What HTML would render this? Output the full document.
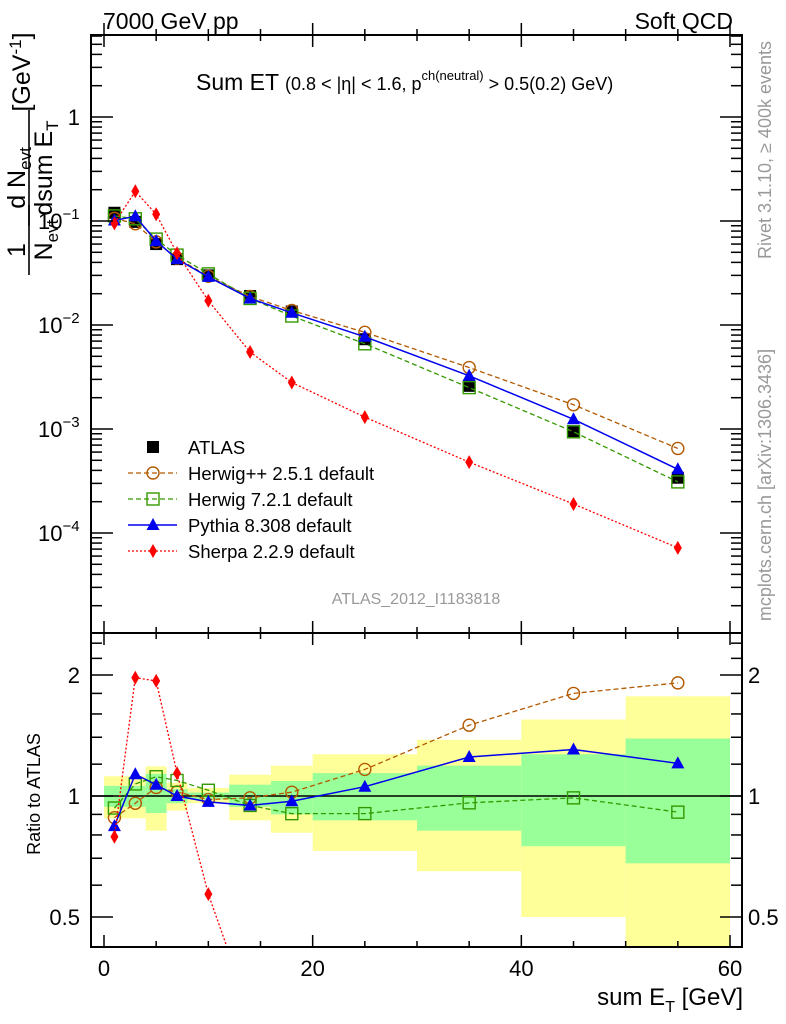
<!DOCTYPE html>
<html><head><meta charset="utf-8"><style>
html,body{margin:0;background:#fff;overflow:hidden;width:786px;height:1024px;}
svg{display:block;font-family:"Liberation Sans",sans-serif;}
</style></head><body>
<svg id="chart" width="786" height="1024" viewBox="0 0 786 1024" xmlns="http://www.w3.org/2000/svg">
<g id="bands"></g>
<g id="marks"></g>
<g id="axes"></g>
<text x="103" y="29" font-size="23">7000 GeV pp</text>
<text x="733" y="29" font-size="23" text-anchor="end">Soft QCD</text>
<text x="196" y="90" font-size="23">Sum ET <tspan font-size="18">(0.8 &lt; |η| &lt; 1.6, p</tspan><tspan font-size="13" dy="-10">ch(neutral)</tspan><tspan font-size="18" dy="10"> &gt; 0.5(0.2) GeV)</tspan></text>
<text x="416" y="604" font-size="16" fill="#999" text-anchor="middle">ATLAS_2012_I1183818</text>
<text transform="translate(771,150) rotate(-90)" font-size="18" fill="#999" text-anchor="middle">Rivet 3.1.10, ≥ 400k events</text>
<text transform="translate(771,485) rotate(-90)" font-size="18" fill="#999" text-anchor="middle">mcplots.cern.ch [arXiv:1306.3436]</text>
<g font-size="25">
<text transform="translate(25,250) rotate(-90)" text-anchor="middle">1</text>
<line x1="29" y1="275" x2="29" y2="205" stroke="#000" stroke-width="1.6"/>
<text transform="translate(52,240) rotate(-90)" text-anchor="middle">N<tspan font-size="17" dy="6">evt</tspan></text>
<text transform="translate(25,178) rotate(-90)" text-anchor="middle">d N<tspan font-size="17" dy="6">evt</tspan></text>
<line x1="29" y1="226" x2="29" y2="110" stroke="#000" stroke-width="1.6"/>
<text transform="translate(52,168) rotate(-90)" text-anchor="middle">dsum E<tspan font-size="17" dy="6">T</tspan></text>
<text transform="translate(30,72) rotate(-90)" text-anchor="middle">[GeV<tspan font-size="17" dy="-9">-1</tspan><tspan dy="9">]</tspan></text>
</g>
<text transform="translate(40,794) rotate(-90)" font-size="18" text-anchor="middle">Ratio to ATLAS</text>
<text x="743" y="1005" font-size="24" text-anchor="end">sum E<tspan font-size="16" dy="7">T</tspan><tspan dy="-7"> [GeV]</tspan></text>
<g id="legend"></g>
</svg>
<script>
const xCenters=[1,3,5,7,10,14,18,25,35,45,55];
const binLo=[0,2,4,6,8,12,16,20,30,40,50];
const binHi=[2,4,6,8,12,16,20,30,40,50,60];
const atlas=[0.12,0.098,0.06,0.043,0.03,0.019,0.0135,0.0073,0.0026,0.00095,0.00034];
const herwigpp=[0.106,0.094,0.063,0.044,0.0294,0.0188,0.0138,0.0085,0.0039,0.00171,0.00065];
const herwig7=[0.112,0.105,0.067,0.047,0.031,0.018,0.0122,0.0066,0.0025,0.00094,0.00031];
const pythia=[0.101,0.111,0.064,0.043,0.029,0.018,0.0131,0.0077,0.00325,0.00124,0.00041];
const sherpa=[0.095,0.193,0.116,0.049,0.0171,0.0055,0.0028,0.0013,0.00048,0.00019,0.000072];
const yellowHi=[1.12,1.12,1.185,1.08,1.047,1.13,1.19,1.27,1.38,1.55,1.77];
const yellowLo=[0.88,0.88,0.82,0.92,0.96,0.87,0.81,0.73,0.65,0.5,0.3];
const greenHi=[1.06,1.06,1.136,1.04,1.02,1.067,1.09,1.14,1.19,1.27,1.39];
const greenLo=[0.94,0.94,0.907,0.96,0.98,0.94,0.90,0.87,0.82,0.75,0.68];
const xTicks=[0,20,40,60];
const mainTickLabels=[[0,"1"],[-1,"10"],[-2,"10"],[-3,"10"],[-4,"10"]];
const ratioTickLabels=[[0.5,"0.5"],[1,"1"],[2,"2"]];

const NS="http://www.w3.org/2000/svg";
const L=91,R=742,MT=35,MB=633,RB=947;
const X=v=>104+v*(626/60);
const YM=v=>117-104*Math.log10(v);
const YR=r=>796-121*Math.log2(r);
function mk(tag,attrs,parent){const e=document.createElementNS(NS,tag);for(const k in attrs)e.setAttribute(k,attrs[k]);parent.appendChild(e);return e;}
const bands=document.getElementById('bands'),marks=document.getElementById('marks'),axes=document.getElementById('axes'),legend=document.getElementById('legend');

const defs=mk('defs',{},document.getElementById('chart'));
const cm=mk('clipPath',{id:'cm'},defs);mk('rect',{x:L,y:MT,width:R-L,height:MB-MT},cm);
const cr=mk('clipPath',{id:'cr'},defs);mk('rect',{x:L,y:MB,width:R-L,height:RB-MB},cr);
bands.setAttribute('clip-path','url(#cr)');

for(let i=0;i<binLo.length;i++){
  const y=mk('rect',{x:X(binLo[i]),y:YR(yellowHi[i]),width:X(binHi[i])-X(binLo[i]),height:YR(yellowLo[i])-YR(yellowHi[i]),fill:'#ffff99'},bands);
  
  
  const g=mk('rect',{x:X(binLo[i]),y:YR(greenHi[i]),width:X(binHi[i])-X(binLo[i]),height:YR(greenLo[i])-YR(greenHi[i]),fill:'#99ff99'},bands);
  
  
}
mk('line',{x1:L,x2:R,y1:YR(1),y2:YR(1),stroke:'#000','stroke-width':1.5},bands);

function marker(type,cx,cy,color,parent){
  let e;
  if(type==='sq')e=mk('rect',{x:cx-6,y:cy-6,width:12,height:12,fill:'#000'},parent);
  if(type==='circ')e=mk('circle',{cx:cx,cy:cy,r:6,fill:'none',stroke:color,'stroke-width':1.4},parent);
  if(type==='osq')e=mk('rect',{x:cx-6,y:cy-6,width:12,height:12,fill:'none',stroke:color,'stroke-width':1.4},parent);
  if(type==='tri')e=mk('path',{d:`M${cx},${cy-7}L${cx+6.5},${cy+5}L${cx-6.5},${cy+5}Z`,fill:color},parent);
  if(type==='dia')e=mk('path',{d:`M${cx},${cy-7}L${cx+4},${cy}L${cx},${cy+7}L${cx-4},${cy}Z`,fill:color},parent);
  return e;
}
const series=[
 {name:'herwigpp',vals:herwigpp,color:'#b35900',dash:'5,3',type:'circ',w:1.3,label:'Herwig++ 2.5.1 default'},
 {name:'herwig7',vals:herwig7,color:'#339900',dash:'5,3',type:'osq',w:1.3,label:'Herwig 7.2.1 default'},
 {name:'pythia',vals:pythia,color:'#0000ee',dash:'',type:'tri',w:1.5,label:'Pythia 8.308 default'},
 {name:'sherpa',vals:sherpa,color:'#ff0000',dash:'2,2',type:'dia',w:1.3,label:'Sherpa 2.2.9 default'}
];
const gm=mk('g',{'clip-path':'url(#cm)'},marks);
const gr=mk('g',{'clip-path':'url(#cr)'},marks);
atlas.forEach((v,i)=>{const e=marker('sq',X(xCenters[i]),YM(v),'#000',gm);
  
  });
series.forEach(s=>{
  const pm=s.vals.map((v,i)=>`${X(xCenters[i])},${YM(v)}`).join(' ');
  const l1=mk('polyline',{points:pm,fill:'none',stroke:s.color,'stroke-width':s.w,'stroke-dasharray':s.dash},gm);
  
  
  s.vals.forEach((v,i)=>{const e=marker(s.type,X(xCenters[i]),YM(v),s.color,gm);
    
    });
  const pr=s.vals.map((v,i)=>`${X(xCenters[i])},${YR(v/atlas[i])}`).join(' ');
  const l2=mk('polyline',{points:pr,fill:'none',stroke:s.color,'stroke-width':s.w,'stroke-dasharray':s.dash},gr);
  
  
  s.vals.forEach((v,i)=>{const e=marker(s.type,X(xCenters[i]),YR(v/atlas[i]),s.color,gr);
    
    });
});

mk('rect',{x:L,y:MT,width:R-L,height:MB-MT,fill:'none',stroke:'#000','stroke-width':2},axes);
mk('rect',{x:L,y:MB,width:R-L,height:RB-MB,fill:'none',stroke:'#000','stroke-width':2},axes);
for(let v=0;v<=60;v+=5){
  const big=v%20===0?12:6;
  [MT,MB,RB].forEach(y0=>{
    mk('line',{x1:X(v),x2:X(v),y1:y0,y2:y0-big,stroke:'#000','stroke-width':1.5},axes);
    if(y0!==RB)mk('line',{x1:X(v),x2:X(v),y1:y0,y2:y0+big,stroke:'#000','stroke-width':1.5},axes);
  });
}
xTicks.forEach(v=>{const t=mk('text',{x:X(v),y:976,'font-size':22,'text-anchor':'middle'},axes);t.textContent=v;
  
  });
for(let d=-5;d<=0;d++){for(let m=1;m<=9;m++){const v=m*Math.pow(10,d);const y=YM(v);if(y<MT||y>MB)continue;
  const len=m===1?22:11;
  mk('line',{x1:L,x2:L+len,y1:y,y2:y,stroke:'#000','stroke-width':1.5},axes);
  mk('line',{x1:R,x2:R-len,y1:y,y2:y,stroke:'#000','stroke-width':1.5},axes);}}
mainTickLabels.forEach(([e,s])=>{const t=mk('text',{x:e===0?80:38,y:YM(Math.pow(10,e))+8,'font-size':22,'text-anchor':e===0?'end':'start'},axes);
  t.textContent=s; if(e!==0){const sp=mk('tspan',{dy:-10,'font-size':15},t);sp.textContent='−'+(-e);}
  
  });
[0.5,0.6,0.7,0.8,0.9,1,1.2,1.4,1.6,1.8,2,2.2,2.4].forEach(r=>{const y=YR(r);if(y<MB||y>RB)return;
  const len=(r===0.5||r===1||r===2)?22:11;
  mk('line',{x1:L,x2:L+len,y1:y,y2:y,stroke:'#000','stroke-width':1.5},axes);
  mk('line',{x1:R,x2:R-len,y1:y,y2:y,stroke:'#000','stroke-width':1.5},axes);});
ratioTickLabels.forEach(([r,s])=>{
  const t=mk('text',{x:80,y:YR(r)+8,'font-size':22,'text-anchor':'end'},axes);t.textContent=s;
  
  
  const t2=mk('text',{x:748,y:YR(r)+8,'font-size':22},axes);t2.textContent=s;
  
  });
const ly=[447,473,499,525,551];
const la=marker('sq',153,ly[0],'#000',legend);


const lt=mk('text',{x:188,y:ly[0]+7,'font-size':18.5},legend);lt.textContent='ATLAS';


series.forEach((s,i)=>{const y=ly[i+1];
  mk('line',{x1:128,x2:177,y1:y,y2:y,stroke:s.color,'stroke-width':s.w,'stroke-dasharray':s.dash},legend);
  marker(s.type,153,y,s.color,legend);
  const t=mk('text',{x:188,y:y+7,'font-size':18.5},legend);t.textContent=s.label;
  
  });
</script>
</body></html>
